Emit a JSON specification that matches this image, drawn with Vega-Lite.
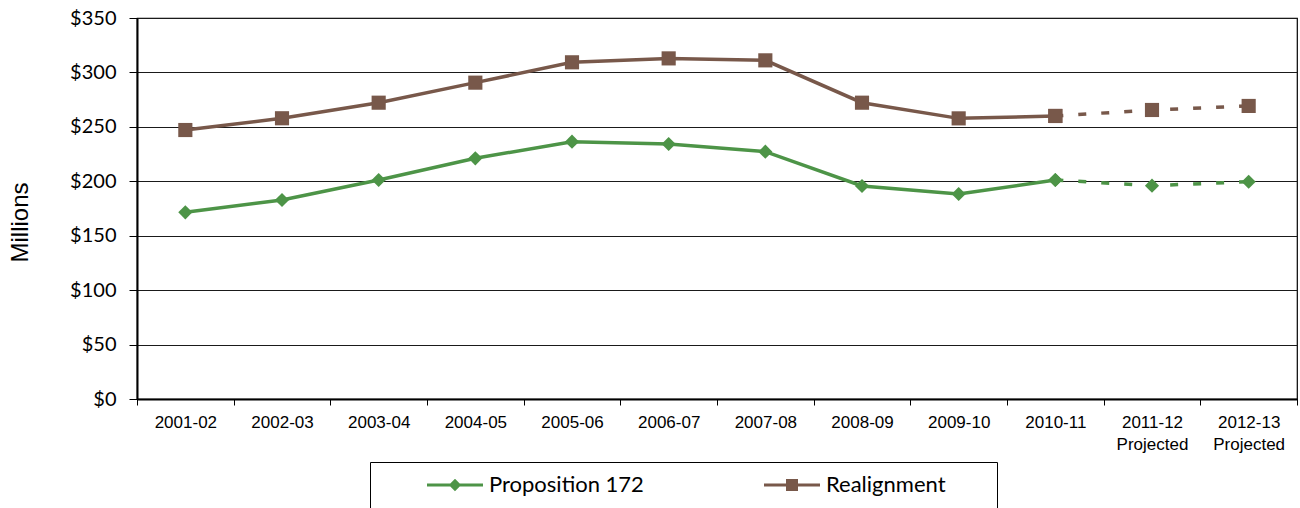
{
  "$schema": "https://vega.github.io/schema/vega-lite/v6.json",
  "width": 1160,
  "height": 381,
  "autosize": {"type": "none"},
  "padding": {"left": 137, "top": 18, "right": 3, "bottom": 109},
  "background": "white",
  "config": {
    "view": {"stroke": "#000", "strokeWidth": 1.2},
    "font": "Liberation Sans",
    "legend": {
      "orient": "none",
      "legendX": 233,
      "legendY": 444,
      "direction": "horizontal",
      "columns": 2,
      "strokeColor": "#000",
      "fillColor": "#fff",
      "padding": 12,
      "labelFont": "Lato",
      "labelFontSize": 22,
      "labelColor": "#000",
      "labelLimit": 400,
      "symbolSize": 256,
      "symbolStrokeWidth": 0,
      "symbolOpacity": 1,
      "symbolOffset": 62,
      "labelOffset": 23,
      "columnPadding": 75
    }
  },
  "data": {
    "values": [
      {"series": "Proposition 172", "year": "2001-02", "value": 171.5, "phase": "actual"},
      {"series": "Proposition 172", "year": "2002-03", "value": 182.8, "phase": "actual"},
      {"series": "Proposition 172", "year": "2003-04", "value": 201.2, "phase": "actual"},
      {"series": "Proposition 172", "year": "2004-05", "value": 221.1, "phase": "actual"},
      {"series": "Proposition 172", "year": "2005-06", "value": 236.4, "phase": "actual"},
      {"series": "Proposition 172", "year": "2006-07", "value": 234.3, "phase": "actual"},
      {"series": "Proposition 172", "year": "2007-08", "value": 227.2, "phase": "actual"},
      {"series": "Proposition 172", "year": "2008-09", "value": 195.7, "phase": "actual"},
      {"series": "Proposition 172", "year": "2009-10", "value": 188.3, "phase": "actual"},
      {"series": "Proposition 172", "year": "2010-11", "value": 201.2, "phase": "actual"},
      {"series": "Proposition 172", "year": "2010-11", "value": 201.2, "phase": "projected"},
      {"series": "Proposition 172", "year": "2011-12 Projected", "value": 196.0, "phase": "projected"},
      {"series": "Proposition 172", "year": "2012-13 Projected", "value": 199.6, "phase": "projected"},
      {"series": "Realignment", "year": "2001-02", "value": 247.1, "phase": "actual"},
      {"series": "Realignment", "year": "2002-03", "value": 257.9, "phase": "actual"},
      {"series": "Realignment", "year": "2003-04", "value": 272.2, "phase": "actual"},
      {"series": "Realignment", "year": "2004-05", "value": 290.6, "phase": "actual"},
      {"series": "Realignment", "year": "2005-06", "value": 309.3, "phase": "actual"},
      {"series": "Realignment", "year": "2006-07", "value": 312.9, "phase": "actual"},
      {"series": "Realignment", "year": "2007-08", "value": 311.1, "phase": "actual"},
      {"series": "Realignment", "year": "2008-09", "value": 272.2, "phase": "actual"},
      {"series": "Realignment", "year": "2009-10", "value": 257.8, "phase": "actual"},
      {"series": "Realignment", "year": "2010-11", "value": 260.0, "phase": "actual"},
      {"series": "Realignment", "year": "2010-11", "value": 260.0, "phase": "projected"},
      {"series": "Realignment", "year": "2011-12 Projected", "value": 265.5, "phase": "projected"},
      {"series": "Realignment", "year": "2012-13 Projected", "value": 269.2, "phase": "projected"}
    ]
  },
  "encoding": {
    "x": {
      "field": "year",
      "type": "ordinal",
      "sort": null,
      "bandPosition": 0.5,
      "scale": {"type": "band", "paddingInner": 0, "paddingOuter": 0},
      "axis": {
        "title": null,
        "labelAngle": 0,
        "labelFont": "Liberation Sans",
        "labelFontSize": 17,
        "labelColor": "#000",
        "labelExpr": "isString(datum.value) ? split(datum.value, ' ') : ''",
        "labelLineHeight": 22,
        "labelPadding": 9,
        "tickSize": 6,
        "tickColor": "#000",
        "tickWidth": 1,
        "tickBand": "extent",
        "domainColor": "#000",
        "domainWidth": 2,
        "grid": false
      }
    },
    "y": {
      "field": "value",
      "type": "quantitative",
      "scale": {"domain": [0, 350], "nice": false},
      "axis": {
        "title": "Millions",
        "titleFont": "Liberation Sans",
        "titleFontSize": 24,
        "titleFontWeight": "normal",
        "titleColor": "#000",
        "titleX": -105,
        "titleY": 204,
        "titleAngle": -90,
        "titleBaseline": "bottom",
        "titleAlign": "center",
        "values": [0, 50, 100, 150, 200, 250, 300, 350],
        "format": "$,.0f",
        "labelFont": "Lato",
        "labelFontSize": 20,
        "labelColor": "#000",
        "labelPadding": 13,
        "tickSize": 8,
        "tickColor": "#000",
        "domainColor": "#000",
        "domainWidth": 2,
        "grid": true,
        "gridColor": "#1a1a1a",
        "gridWidth": 1
      }
    },
    "color": {
      "field": "series",
      "type": "nominal",
      "scale": {"domain": ["Proposition 172", "Realignment"], "range": ["#4d9447", "#78584a"]},
      "legend": null
    }
  },
  "resolve": {"scale": {"shape": "independent"}, "legend": {"shape": "independent", "color": "independent"}},
  "layer": [
    {
      "transform": [{"filter": "datum.phase == 'actual'"}],
      "mark": {"type": "line", "strokeWidth": 3.5}
    },
    {
      "transform": [{"filter": "datum.phase == 'projected'"}],
      "mark": {"type": "line", "strokeWidth": 3.5, "strokeDash": [8, 15]}
    },
    {
      "mark": {"type": "point", "filled": true, "opacity": 1, "size": 200, "strokeWidth": 0},
      "encoding": {
        "shape": {
          "field": "series",
          "type": "nominal",
          "scale": {"domain": ["Proposition 172", "Realignment"], "range": ["diamond", "square"]},
          "legend": null
        }
      }
    },
    {
      "transform": [{"filter": "datum.phase == 'actual'"}],
      "mark": {"type": "point", "filled": true, "opacity": 0, "size": 200, "strokeWidth": 0},
      "encoding": {
        "color": {
          "field": "series",
          "type": "nominal",
          "legend": {
            "title": null,
            "labelExpr": "datum.value === 'Realignment' ? datum.label + '\u00a0\u00a0\u00a0\u00a0\u00a0\u00a0\u00a0\u200b' : datum.label"
          }
        },
        "shape": {
          "field": "series",
          "type": "nominal",
          "scale": {
            "domain": ["Proposition 172", "Realignment"],
            "range": [
              "M-3.5,-0.2H3.5V0.2H-3.5Z M0,-0.775L0.775,0L0,0.775L-0.775,0Z",
              "M-3.5,-0.2H3.5V0.2H-3.5Z M-0.75,-0.75H0.75V0.75H-0.75Z"
            ]
          },
          "legend": {
            "title": null,
            "labelExpr": "datum.value === 'Realignment' ? datum.label + '\u00a0\u00a0\u00a0\u00a0\u00a0\u00a0\u00a0\u200b' : datum.label"
          }
        }
      }
    }
  ]
}
